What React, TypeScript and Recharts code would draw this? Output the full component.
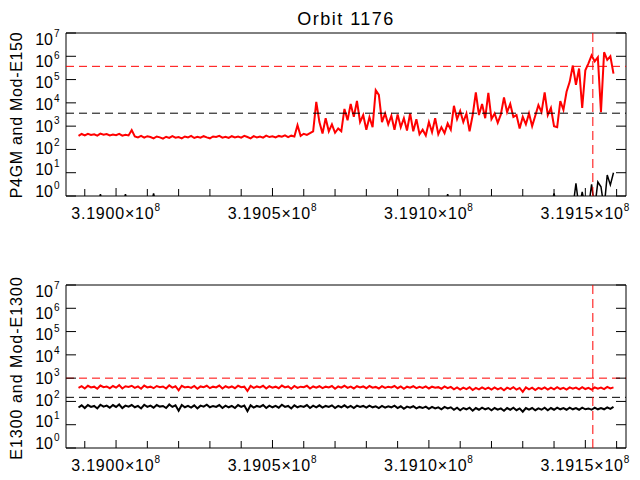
import React from "react";
import { LineChart, Line, XAxis, YAxis, ReferenceLine, ReferenceArea } from "recharts";

// sample grid (seconds), one sample every STEP
const T0 = 318988000;
const STEP = 1000;

const X_DOMAIN = [318984000, 319163000];
const X_TICKS = [
  318990000, 319000000, 319010000, 319020000, 319030000, 319040000, 319050000, 319060000, 319070000,
  319080000, 319090000, 319100000, 319110000, 319120000, 319130000, 319140000, 319150000, 319160000,
];
const X_MAJOR = [319000000, 319050000, 319100000, 319150000];
const Y_DOMAIN = [1, 1e7];
const Y_TICKS = [1, 10, 100, 1e3, 1e4, 1e5, 1e6, 1e7];

const EVENT_TIME = 319152400;

const TOP_RED_LIMIT = 370000;
const TOP_BLACK_LIMIT = 3600;
const BOTTOM_RED_LIMIT = 1000;
const BOTTOM_BLACK_LIMIT = 150;

const TOP_RED = [
  380, 460, 400, 470, 420, 450, 390, 480, 430, 460, 400, 440, 410, 470, 390, 430, 400,
  680,
  360, 330, 380, 320, 370, 340, 300, 360, 330, 290, 350, 310,
  370, 320, 340, 300, 360, 330, 380, 310, 350, 320, 370, 330,
  300, 360, 340, 380, 320, 350, 310, 370, 330, 360, 320, 380,
  340, 300, 370, 330, 360, 320, 390, 340, 370, 330, 380, 350, 400, 340, 390, 360,
  1100, 380, 470, 420, 500, 600, 11000, 1500, 480, 2200,
  600, 1200, 520, 800, 600, 5500, 1800, 9000, 2500, 12000,
  1500, 3000, 700, 2400, 900, 35000, 22000, 1500, 3500, 1200,
  2800, 700, 3200, 900, 2200, 650, 3500, 600, 2000, 450,
  700, 400, 1500, 550, 2200, 450, 900, 500, 1300, 700,
  7500, 2000, 4500, 1500, 3500, 600, 3000, 28000, 3000, 9000,
  2200, 27000, 2000, 3500, 1400, 3200, 17000, 4000, 9000, 2500,
  3000, 800, 2500, 1200, 3500, 1000, 2800, 8000, 4000, 28000,
  3000, 6000, 1000, 900, 12000, 5000, 30000, 80000, 400000, 60000,
  300000, 6000, 250000, 500000, 1100000, 600000, 900000, 4000, 1500000, 700000,
  1000000, 180000,
];

const TOP_BLACK = [
  0.3, 0.3, 0.3, 0.3, 0.3, 0.3, 0.3, 1.2, 0.3, 0.3, 0.3, 0.3, 0.3, 0.3, 0.3, 1.2, 0.3, 0.3, 0.3, 0.3,
  0.3, 0.3, 0.3, 0.3, 1.3, 0.3, 0.3, 0.3, 0.3, 0.3, 0.3, 0.3, 0.3, 0.3, 0.3, 0.3, 0.3, 0.3, 0.3, 0.3,
  0.3, 0.3, 0.3, 0.3, 0.3, 0.3, 0.3, 0.3, 0.3, 0.3, 0.3, 0.3, 0.3, 0.3, 0.3, 0.3, 0.3, 0.3, 0.3, 0.3,
  0.3, 0.3, 0.3, 0.3, 0.3, 0.3, 0.3, 0.3, 0.3, 0.3, 0.3, 0.3, 0.3, 0.3, 0.3, 0.3, 0.3, 0.3, 0.3, 0.3,
  0.3, 0.3, 0.3, 0.3, 0.3, 0.3, 0.3, 0.3, 0.3, 0.3, 0.3, 0.3, 0.3, 0.3, 0.3, 0.3, 0.3, 0.3, 0.3, 0.3,
  0.3, 0.3, 0.3, 0.3, 0.3, 0.3, 0.3, 0.3, 0.3, 0.3, 0.3, 0.3, 0.3, 0.3, 0.3, 0.3, 0.3, 0.3, 1.2, 0.3,
  0.3, 0.3, 0.3, 0.3, 0.3, 0.3, 0.3, 0.3, 0.3, 0.3, 0.3, 0.3, 0.3, 0.3, 0.3, 0.3, 0.3, 0.3, 0.3, 0.3,
  0.3, 0.3, 0.3, 0.3, 0.3, 0.3, 0.3, 0.3, 0.3, 0.3, 0.3, 0.3, 1.3, 0.3, 0.3, 0.3, 0.3, 0.3, 0.3, 3.5,
  0.3, 1.5, 0.3, 0.3, 3.2, 0.3, 4, 2.5, 0.3, 8, 3, 10,
];

const BOTTOM_RED = [
  380, 450, 360, 470, 400, 430, 350, 480, 410, 440, 370, 460,
  390, 500, 360, 450, 420, 470, 380, 440, 350, 480, 400, 430,
  370, 460, 410, 440, 360, 490, 390, 450, 300, 470, 400, 430,
  380, 460, 350, 440, 410, 470, 370, 430, 400, 480, 360, 450,
  390, 440, 370, 470, 410, 430, 280, 460, 380, 440, 400, 470,
  360, 450, 390, 430, 370, 480, 400, 440, 350, 460, 380, 430,
  410, 470, 360, 440, 390, 450, 370, 430, 400, 460, 350, 440,
  390, 470, 380, 430, 360, 450, 400, 440, 370, 460, 390, 420,
  360, 450, 380, 430, 400, 460, 370, 440, 350, 430, 390, 450,
  370, 420, 380, 440, 360, 430, 390, 410, 350, 440, 370, 420,
  330, 400, 320, 390, 340, 410, 310, 380, 330, 400, 340, 390,
  320, 400, 330, 380, 300, 390, 340, 410, 320, 380, 260, 400,
  330, 390, 310, 380, 340, 400, 320, 390, 330, 410, 340, 380,
  320, 400, 350, 390, 330, 410, 340, 380, 320, 400, 350, 390,
  340, 420, 360, 400,
];

const BOTTOM_BLACK = [
  55, 68, 52, 70, 58, 64, 50, 72, 60, 66, 54, 70,
  58, 74, 52, 66, 60, 70, 56, 64, 50, 72, 58, 66,
  54, 70, 60, 64, 52, 74, 58, 68, 40, 70, 56, 64,
  54, 68, 50, 66, 60, 72, 56, 64, 58, 70, 52, 66,
  56, 64, 52, 70, 58, 66, 38, 68, 54, 64, 58, 70,
  52, 66, 56, 64, 54, 72, 58, 64, 50, 68, 56, 64,
  58, 70, 52, 66, 56, 68, 54, 64, 58, 68, 52, 64,
  56, 68, 54, 64, 52, 66, 58, 64, 54, 66, 56, 62,
  52, 64, 54, 62, 56, 66, 52, 62, 48, 60, 54, 62,
  50, 58, 52, 60, 48, 58, 50, 56, 46, 58, 50, 56,
  44, 54, 42, 52, 46, 54, 40, 52, 44, 54, 46, 52,
  42, 52, 44, 50, 40, 52, 44, 54, 42, 50, 36, 52,
  44, 52, 42, 50, 44, 54, 42, 52, 44, 54, 46, 52,
  44, 54, 46, 52, 44, 54, 46, 50, 44, 54, 46, 52,
  46, 56, 48, 58,
];

const FONT = "'Liberation Sans', Arial, sans-serif";
const PLOT_LEFT = 66;
const PLOT_RIGHT = 626;
const RED = "#ff0000";

function buildRows(red: number[], black: number[]) {
  return red.map((v, i) => ({ t: T0 + i * STEP, red: v, black: black[i] }));
}

function YTick(props: any) {
  const { x, y, payload } = props;
  const exp = Math.round(Math.log10(payload.value));
  // IDL spreads the labels a little: bottom label sits on its tick, top one below it
  const base = y + 1 + exp * 1.57;
  return (
    <g>
      <line x1={x} y1={y} x2={x + 10} y2={y} stroke="#000" />
      <line x1={PLOT_RIGHT} y1={y} x2={PLOT_RIGHT - 10} y2={y} stroke="#000" />
      <text x={x - 13} y={base} textAnchor="end" fontSize={16} fontFamily={FONT} fill="#000">10</text>
      <text x={x - 12} y={base - 8} fontSize={10} fontFamily={FONT} fill="#000">{exp}</text>
    </g>
  );
}

function XTick(props: any) {
  const { x, y, payload } = props;
  const major = X_MAJOR.includes(payload.value);
  return (
    <g>
      <line x1={x} y1={y} x2={x} y2={y - (major ? 8 : 7)} stroke="#000" />
      {major && (
        <text x={x} y={y + 23} textAnchor="middle" fontSize={16} letterSpacing={0.8} fontFamily={FONT} fill="#000">
          {(payload.value / 1e8).toFixed(4)}×10
          <tspan dy={-8} fontSize={10}>8</tspan>
        </text>
      )}
    </g>
  );
}

function Panel({ rows, redLimit, blackLimit, top, xHeight, blackWidth }: any) {
  return (
    <LineChart width={640} height={240} data={rows} margin={{ top, right: 640 - PLOT_RIGHT, bottom: 0, left: 0 }}>
      <XAxis
        dataKey="t"
        type="number"
        domain={X_DOMAIN}
        ticks={X_TICKS}
        interval={0}
        allowDataOverflow
        height={xHeight}
        axisLine={false}
        tickLine={false}
        tickSize={0}
        tickMargin={0}
        tick={XTick}
      />
      <YAxis
        type="number"
        scale="log"
        domain={Y_DOMAIN}
        ticks={Y_TICKS}
        interval={0}
        allowDataOverflow
        width={PLOT_LEFT}
        axisLine={false}
        tickLine={false}
        tickSize={0}
        tickMargin={0}
        tick={YTick}
      />
      <Line dataKey="black" type="linear" stroke="#000" strokeWidth={blackWidth} dot={false} isAnimationActive={false} />
      <Line dataKey="red" type="linear" stroke={RED} strokeWidth={2} dot={false} isAnimationActive={false} />
      <ReferenceLine y={redLimit} stroke={RED} strokeDasharray="8 5" />
      <ReferenceLine y={blackLimit} stroke="#000" strokeDasharray="8 5" />
      <ReferenceLine x={EVENT_TIME} stroke={RED} strokeDasharray="9 5" />
      <ReferenceArea x1={X_DOMAIN[0]} x2={X_DOMAIN[1]} y1={Y_DOMAIN[0]} y2={Y_DOMAIN[1]} fill="none" stroke="#000" />
    </LineChart>
  );
}

export default function App() {
  const topRows = buildRows(TOP_RED, TOP_BLACK);
  const bottomRows = buildRows(BOTTOM_RED, BOTTOM_BLACK);
  return (
    <div style={{ position: "absolute", left: 0, top: 0, width: 640, height: 480, background: "#fff" }}>
      <div style={{ position: "absolute", left: 0, top: 0 }}>
        <Panel rows={topRows} redLimit={TOP_RED_LIMIT} blackLimit={TOP_BLACK_LIMIT} top={33} xHeight={44} blackWidth={1.5} />
      </div>
      <div style={{ position: "absolute", left: 0, top: 240 }}>
        <Panel rows={bottomRows} redLimit={BOTTOM_RED_LIMIT} blackLimit={BOTTOM_BLACK_LIMIT} top={45} xHeight={32} blackWidth={2} />
      </div>
      <svg width={640} height={480} style={{ position: "absolute", left: 0, top: 0, pointerEvents: "none" }}>
        <text x={346} y={25} textAnchor="middle" fontSize={18} letterSpacing={1.5} fontFamily={FONT} fill="#000">
          Orbit 1176
        </text>
        <text transform="translate(22,115) rotate(-90)" textAnchor="middle" fontSize={16} letterSpacing={0.7} fontFamily={FONT} fill="#000">
          P4GM and Mod-E150
        </text>
        <text transform="translate(22,368) rotate(-90)" textAnchor="middle" fontSize={16} letterSpacing={1} fontFamily={FONT} fill="#000">
          E1300 and Mod-E1300
        </text>
      </svg>
    </div>
  );
}
